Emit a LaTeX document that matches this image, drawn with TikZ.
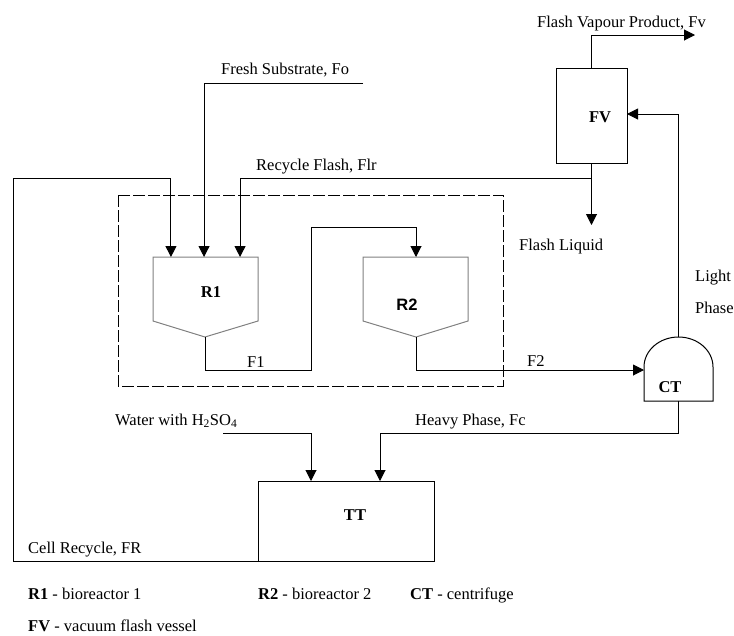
\documentclass[tikz,border=0pt]{standalone}
\usepackage{fontspec}
\setmainfont{Liberation Serif}
\newfontfamily\sanslab{Liberation Sans}
\usetikzlibrary{calc, positioning}
\usetikzlibrary{arrows.meta}

\tikzset{
  pipe/.style={line width=1pt},
  flow/.style={pipe, -{Triangle[length=11pt, width=11pt]}},
  vessel/.style={draw, line width=1pt, inner sep=0pt},
  reactorwall/.style={draw=black!50, line width=1pt},
  tag/.style={font=\fontsize{16.5}{19}\selectfont\bfseries, inner sep=0pt},
  lbl/.style={inner sep=0pt, anchor=base west},
}

\begin{document}
\begin{tikzpicture}[x=1pt, y=-1pt, font=\fontsize{16.5}{19}\selectfont]
\useasboundingbox (0,0) rectangle (734,635);

% reactor bodies
\coordinate (R1nw) at (153,257);
\coordinate (R1ne) at (258,257);
\coordinate (R1apex) at (205,337);
\coordinate (R2nw) at (363,257);
\coordinate (R2ne) at (468,257);
\coordinate (R2apex) at (416,337);
\coordinate (R2in) at (416,257);

\draw[reactorwall] ($(R1nw)+(0,64)$) -- (R1nw) -- (R1ne) -- ($(R1ne)+(0,64)$) -- (R1apex) -- cycle;
\draw[reactorwall] ($(R2nw)+(0,64)$) -- (R2nw) -- (R2ne) -- ($(R2ne)+(0,64)$) -- (R2apex) -- cycle;
\node[tag] (R1) at (211,292) {R1};
\node[tag, font=\fontsize{16.5}{19}\sanslab\bfseries] (R2) at (407,305) {R2};

% dashed boundary
\draw[line width=1pt, dash pattern=on 12pt off 3pt] (118,195) rectangle (503,386);

% flash vessel, tank, centrifuge
\node[vessel, minimum width=71pt, minimum height=95pt] (FV) at (591.5,115.5) {};
\node[tag] (FVtag) at (600,117) {FV};
\node[vessel, minimum width=176pt, minimum height=80pt] (TT) at (346,521) {};
\node[tag] (TTtag) at (355,515) {TT};

\coordinate (CTsw) at (644,401);
\coordinate (CTse) at (713,401);
\coordinate (CTtop) at (678.5,337);
\coordinate (CTbot) at (678.5,401);
\coordinate (CTin) at (644,370);
\draw[pipe] (CTsw) -- (644,367) arc[start angle=180, end angle=0, x radius=34.5pt, y radius=30pt] -- (CTse) -- cycle;
\node[tag] (CT) at (670,387) {CT};

% feeds into R1
\coordinate (fresh) at (363,83);
\draw[flow] (fresh) -| ($(R1nw)!0.486!(R1ne)$);
\coordinate (flr) at (591.5,178);
\draw[flow] (flr) -| ($(R1nw)!0.829!(R1ne)$);
\draw[flow] (TT.south west) -| (13,178) -| ($(R1nw)!0.171!(R1ne)$);

% reactor train
\draw[flow] (R1apex) |- (311,370) |- (416,227) -- (R2in);
\draw[flow] (R2apex) |- (CTin);

% centrifuge and flash
\coordinate (FVin) at (627,114);
\coordinate (vapour) at (695,35);
\coordinate (liquid) at (591.5,225);
\draw[flow] (CTtop) |- (FVin);
\draw[flow] (FV.north) |- (vapour);
\draw[flow] (FV.south) -- (liquid);
\coordinate (TTin1) at (311,481);
\coordinate (TTin2) at (380,481);
\draw[flow] (CTbot) |- (380,433) -- (TTin2);
\coordinate (water) at (223,433);
\draw[flow] (water) -| (TTin1);

% stream labels
\node[lbl] (lfresh) at (221,74) {Fresh Substrate, Fo};
\node[lbl] (lflr) at (256,170) {Recycle Flash, Flr};
\node[lbl] (lfv) at (537,27) {Flash Vapour Product, Fv};
\node[lbl] (lliq) at (519,250) {Flash Liquid};
\node[lbl] (llight) at (695,281) {Light};
\node[lbl] (lphase) at (695,313) {Phase};
\node[lbl] (lf1) at (247,367) {F1};
\node[lbl] (lf2) at (527,366) {F2};
\node[lbl] (lwater) at (115,425) {Water with H\textsubscript{2}SO\textsubscript{4}};
\node[lbl] (lheavy) at (415,425) {Heavy Phase, Fc};
\node[lbl] (lcell) at (28,553) {Cell Recycle, FR};

% legend
\node[lbl] (key1) at (28,599) {\textbf{R1} - bioreactor 1};
\node[lbl] (key2) at (258,599) {\textbf{R2} - bioreactor 2};
\node[lbl] (key3) at (410,599) {\textbf{CT} - centrifuge};
\node[lbl] (key4) at (28,631) {\textbf{FV} - vacuum flash vessel};
\end{tikzpicture}
\end{document}
